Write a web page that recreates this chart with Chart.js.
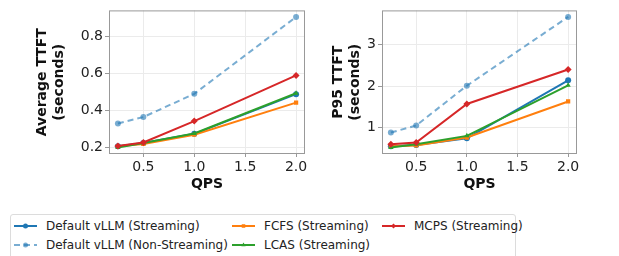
<!DOCTYPE html>
<html>
<head>
<meta charset="utf-8">
<script src="https://cdn.jsdelivr.net/npm/chart.js@4.4.1/dist/chart.umd.min.js"></script>
<style>
  body { margin: 0; background: #fff; font-family: "DejaVu Sans", sans-serif; }
  #wrap { position: relative; width: 619px; height: 256px; overflow: hidden; }
  #left { position: absolute; left: 0; top: 0; }
  #right { position: absolute; left: 310px; top: 0; }
  #legend {
    position: absolute; left: 10px; top: 214px; width: 506px; height: 50px;
    border: 1px solid #dcdcdc; border-radius: 3px; box-sizing: border-box;
  }
  .item { position: absolute; height: 18px; font-size: 12px; color: #222; line-height: 18px; white-space: nowrap; }
  .item canvas { position: absolute; left: 0; top: 0; }
  .item span { position: absolute; left: 32px; top: 0; }
</style>
</head>
<body>
<div id="wrap">
  <canvas id="left" width="310" height="200"></canvas>
  <canvas id="right" width="309" height="200"></canvas>
  <div id="legend"></div>
</div>
<script>
// QPS on the x axis
const qps = [0.25, 0.5, 1.0, 2.0];
const xTicks = [0.5, 1.0, 1.5, 2.0];

const seriesNames = [
  "Default vLLM (Streaming)",
  "Default vLLM (Non-Streaming)",
  "FCFS (Streaming)",
  "LCAS (Streaming)",
  "MCPS (Streaming)"
];
const seriesColors = ["#1f77b4", "rgba(31,119,180,0.6)", "#ff7f0e", "#2ca02c", "#d62728"];
const seriesMarkers = ["circle", "circle", "rect", "triangle", "rectRot"];
const seriesDash = [[], [6, 4], [], [], []];

// Average TTFT (seconds)
const avgDefaultStream = [0.205, 0.222, 0.272, 0.487];
const avgDefaultNonStream = [0.328, 0.363, 0.489, 0.906];
const avgFcfs = [0.204, 0.217, 0.267, 0.441];
const avgLcas = [0.198, 0.222, 0.274, 0.492];
const avgMcps = [0.206, 0.225, 0.341, 0.589];
const avgYTicks = [0.2, 0.4, 0.6, 0.8];

// P95 TTFT (seconds)
const p95DefaultStream = [0.55, 0.58, 0.74, 2.14];
const p95DefaultNonStream = [0.88, 1.05, 2.01, 3.67];
const p95Fcfs = [0.55, 0.57, 0.76, 1.63];
const p95Lcas = [0.52, 0.60, 0.80, 2.02];
const p95Mcps = [0.60, 0.64, 1.57, 2.40];
const p95YTicks = [1, 2, 3];

const frame = {
  id: "frame",
  afterDraw(chart) {
    const a = chart.chartArea, c = chart.ctx;
    c.save();
    c.strokeStyle = "#999";
    c.lineWidth = 1;
    c.strokeRect(a.left + 0.5, a.top + 0.5, a.right - a.left - 1, a.bottom - a.top - 1);
    c.restore();
  }
};

function makeChart(id, series, yTicks, yTitle, axisWidth, rightPad) {
  const all = series.flat();
  const lo = Math.min(...all), hi = Math.max(...all), m = (hi - lo) * 0.05;
  const datasets = series.map((vals, i) => ({
    label: seriesNames[i],
    data: qps.map((q, j) => ({ x: q, y: vals[j] })),
    borderColor: seriesColors[i],
    backgroundColor: seriesColors[i],
    borderWidth: 2,
    borderDash: seriesDash[i],
    pointStyle: seriesMarkers[i],
    pointRadius: seriesMarkers[i] === "rectRot" ? 3.5 : 3,
    pointBorderWidth: 0,
    order: series.length - i
  }));
  return new Chart(document.getElementById(id), {
    type: "line",
    data: { datasets },
    options: {
      responsive: false,
      animation: false,
      layout: { padding: { left: 0, right: rightPad, top: 4, bottom: 0 } },
      plugins: { legend: { display: false }, tooltip: { enabled: false } },
      scales: {
        x: {
          type: "linear",
          min: 0.1625, max: 2.0875,
          afterBuildTicks: s => { s.ticks = xTicks.map(v => ({ value: v })); },
          afterFit: s => { s.height = 46; },
          grid: { color: "#ebebeb", tickLength: 3, tickColor: "#999", drawTicks: true },
          border: { display: false },
          ticks: { color: "#222", font: { family: "DejaVu Sans", size: 14 }, padding: 2, maxRotation: 0,
                   callback: v => v.toFixed(1) },
          title: { display: true, text: "QPS", color: "#111",
                   font: { family: "DejaVu Sans", size: 14, weight: "bold" }, padding: { top: 0, bottom: 7 } }
        },
        y: {
          min: lo - m, max: hi + m,
          afterBuildTicks: s => { s.ticks = yTicks.map(v => ({ value: v })); },
          afterFit: s => { s.width = axisWidth; },
          grid: { color: "#ebebeb", tickLength: 4, tickColor: "#999", drawTicks: true },
          border: { display: false },
          ticks: { color: "#222", font: { family: "DejaVu Sans", size: 14 }, padding: 2,
                   callback: v => Number.isInteger(yTicks[0]) ? String(v) : v.toFixed(1) },
          title: { display: true, text: yTitle, color: "#111",
                   font: { family: "DejaVu Sans", size: 14, weight: "bold", lineHeight: 1.2 },
                   padding: { top: id === "left" ? 34 : 20, bottom: 0 } }
        }
      }
    },
    plugins: [frame]
  });
}

makeChart("left", [avgDefaultStream, avgDefaultNonStream, avgFcfs, avgLcas, avgMcps],
  avgYTicks, ["Average TTFT", "(seconds)"], 109, 5);
makeChart("right", [p95DefaultStream, p95DefaultNonStream, p95Fcfs, p95Lcas, p95Mcps],
  p95YTicks, ["P95 TTFT", "(seconds)"], 72, 42);

// legend laid out column-wise like the original
const legendPos = [[3, 2], [3, 21], [221, 2], [221, 21], [371, 2]];
const legend = document.getElementById("legend");
seriesNames.forEach((name, i) => {
  const item = document.createElement("div");
  item.className = "item";
  item.style.left = legendPos[i][0] + "px";
  item.style.top = legendPos[i][1] + "px";
  const cv = document.createElement("canvas");
  cv.width = 28; cv.height = 18;
  const c = cv.getContext("2d");
  c.strokeStyle = seriesColors[i];
  c.fillStyle = seriesColors[i];
  c.lineWidth = 2;
  c.setLineDash(seriesDash[i]);
  c.beginPath(); c.moveTo(0, 9); c.lineTo(23, 9); c.stroke();
  c.setLineDash([]);
  Chart.helpers.drawPoint(c, { pointStyle: seriesMarkers[i], radius: 2.5, rotation: 0, borderWidth: 0 }, 11.5, 9);
  item.appendChild(cv);
  const sp = document.createElement("span");
  sp.textContent = name;
  item.appendChild(sp);
  legend.appendChild(item);
});
</script>
</body>
</html>
